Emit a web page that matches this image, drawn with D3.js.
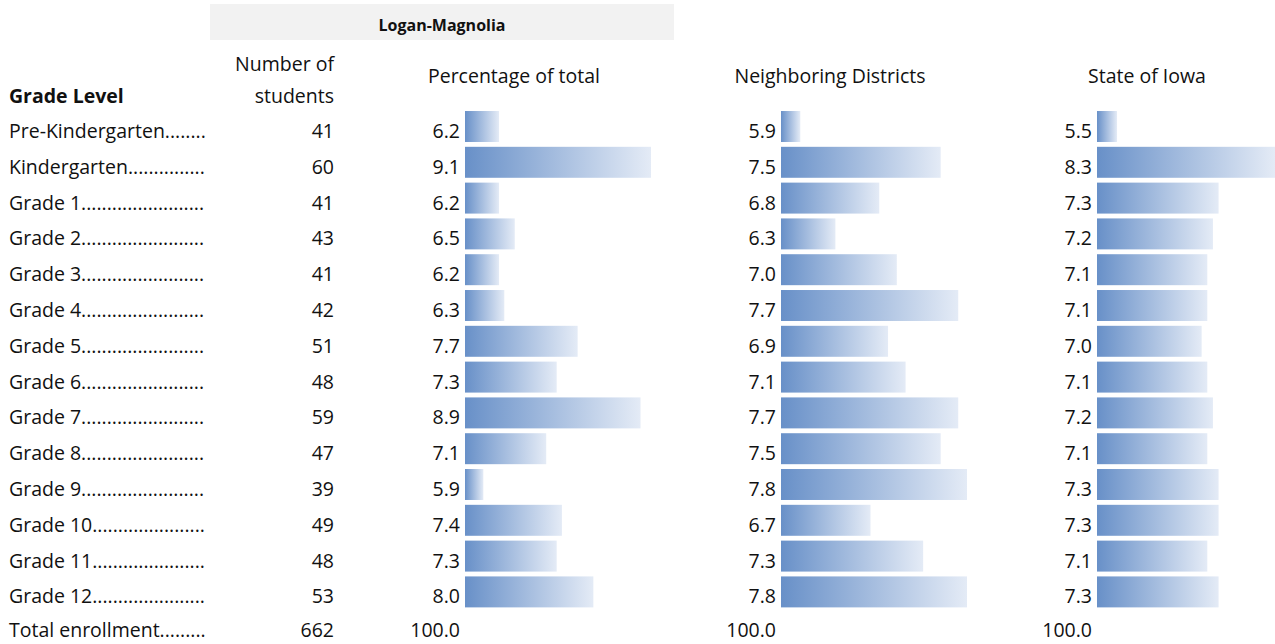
<!DOCTYPE html>
<html>
<head>
<meta charset="utf-8">
<script src="https://cdn.jsdelivr.net/npm/d3@7"></script>
<style>
  body { margin: 0; background: #fff; }
  text { font-family: "Open Sans", sans-serif; fill: #111; }
</style>
</head>
<body>
<svg id="chart" width="1275" height="644"></svg>
<script>
'use strict'

const grades = ['Pre-Kindergarten', 'Kindergarten', 'Grade 1', 'Grade 2', 'Grade 3', 'Grade 4',
  'Grade 5', 'Grade 6', 'Grade 7', 'Grade 8', 'Grade 9', 'Grade 10', 'Grade 11', 'Grade 12']
const students = [41, 60, 41, 43, 41, 42, 51, 48, 59, 47, 39, 49, 48, 53]
const pctTotal = [6.2, 9.1, 6.2, 6.5, 6.2, 6.3, 7.7, 7.3, 8.9, 7.1, 5.9, 7.4, 7.3, 8.0]
const neighboring = [5.9, 7.5, 6.8, 6.3, 7.0, 7.7, 6.9, 7.1, 7.7, 7.5, 7.8, 6.7, 7.3, 7.8]
const stateIowa = [5.5, 8.3, 7.3, 7.2, 7.1, 7.1, 7.0, 7.1, 7.2, 7.1, 7.3, 7.3, 7.1, 7.3]
const totalStudents = 662
const totalPct = '100.0'

const svg = d3.select('#chart')
const FS = 19.5

// gradient used for every bar
const grad = svg.append('defs').append('linearGradient')
  .attr('id', 'barGrad')
grad.append('stop').attr('offset', '0%').attr('stop-color', '#6890c8')
grad.append('stop').attr('offset', '100%').attr('stop-color', '#e4ebf6')

const y = d3.scaleBand()
  .domain(grades)
  .range([108.6, 108.6 + 14 * 35.8])
  .paddingInner(0.135)
  .paddingOuter(0.0675)
const rowBase = g => y(g) + 27
// last row sits right at the bottom edge, keep descenders inside
const totalBase = rowBase(grades[grades.length - 1]) + y.step() - 2.5

// header block
svg.append('rect')
  .attr('x', 210).attr('y', 4).attr('width', 464).attr('height', 36)
  .attr('fill', '#f2f2f2')
svg.append('text')
  .attr('x', 442).attr('y', 31)
  .attr('text-anchor', 'middle')
  .style('font-size', '16px').style('font-weight', 'bold')
  .text('Logan-Magnolia')

svg.append('text').attr('x', 9).attr('y', 103)
  .style('font-size', FS + 'px').style('font-weight', 'bold')
  .text('Grade Level')
svg.append('text').attr('x', 334).attr('y', 71).attr('text-anchor', 'end')
  .style('font-size', FS + 'px').text('Number of')
svg.append('text').attr('x', 334).attr('y', 103).attr('text-anchor', 'end')
  .style('font-size', FS + 'px').text('students')

// grade labels with dot leaders
const labels = svg.append('g')
grades.concat(['Total enrollment']).forEach((g, i) => {
  const t = labels.append('text')
    .attr('x', 9)
    .attr('y', i < grades.length ? rowBase(g) : totalBase)
    .style('font-size', FS + 'px')
    .text(g)
  let s = g
  while (t.node().getComputedTextLength() < 192) {
    s += '.'
    t.text(s)
  }
})

// number of students
svg.append('g').selectAll('text')
  .data(students)
  .enter().append('text')
  .attr('x', 334)
  .attr('y', (d, i) => rowBase(grades[i]))
  .attr('text-anchor', 'end')
  .style('font-size', FS + 'px')
  .text(d => d)
svg.append('text').attr('x', 334).attr('y', totalBase).attr('text-anchor', 'end')
  .style('font-size', FS + 'px').text(totalStudents)

// bar columns
const columns = [
  {title: 'Percentage of total', values: pctTotal, domain: [5.55, 9.1], range: [465, 651], titleX: 514},
  {title: 'Neighboring Districts', values: neighboring, domain: [5.68, 7.8], range: [781, 967], titleX: 830},
  {title: 'State of Iowa', values: stateIowa, domain: [5.145, 8.3], range: [1097, 1275], titleX: 1147}
]

columns.forEach(col => {
  const x = d3.scaleLinear().domain(col.domain).range(col.range)
  const g = svg.append('g')

  g.append('text')
    .attr('x', col.titleX).attr('y', 83)
    .attr('text-anchor', 'middle')
    .style('font-size', FS + 'px')
    .text(col.title)

  g.selectAll('rect')
    .data(col.values)
    .enter().append('rect')
    .attr('x', x(col.domain[0]))
    .attr('y', (d, i) => y(grades[i]))
    .attr('width', d => x(d) - x(col.domain[0]))
    .attr('height', y.bandwidth())
    .attr('fill', 'url(#barGrad)')

  g.selectAll('text.val')
    .data(col.values)
    .enter().append('text')
    .attr('class', 'val')
    .attr('x', x(col.domain[0]) - 5)
    .attr('y', (d, i) => rowBase(grades[i]))
    .attr('text-anchor', 'end')
    .style('font-size', FS + 'px')
    .text(d => d3.format('.1f')(d))

  g.append('text')
    .attr('x', x(col.domain[0]) - 5).attr('y', totalBase)
    .attr('text-anchor', 'end')
    .style('font-size', FS + 'px')
    .text(totalPct)
})
</script>
</body>
</html>
